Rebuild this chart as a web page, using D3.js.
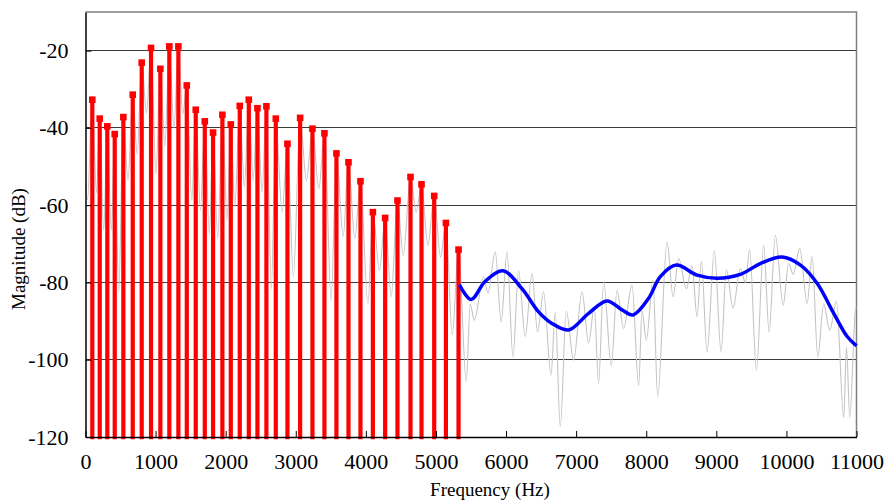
<!DOCTYPE html>
<html>
<head>
<meta charset="utf-8">
<script src="https://cdn.jsdelivr.net/npm/d3@7"></script>
<style>
  body { margin: 0; background: #fff; }
  svg { display: block; font-family: "Liberation Serif", "Times New Roman", serif; }
</style>
</head>
<body>
<div id="grafica"></div>
<script>
// Harmonic peaks (red stems)
var harmFreq = [97, 203, 311, 417, 540, 674, 802, 935, 1068, 1196, 1325, 1445, 1573, 1702, 1820, 1953, 2073, 2201, 2330, 2453, 2581, 2715,
                2881, 3062, 3238, 3409, 3580, 3752, 3923, 4100, 4275, 4451, 4637, 4794, 4975, 5142, 5322]
var harmDb = [-32.7, -37.6, -39.6, -41.6, -37.2, -31.4, -23.1, -19.3, -24.7, -18.9, -18.9, -29.0, -35.3, -38.3, -41.2, -36.6, -39.1, -34.3, -32.7, -34.9, -34.4, -37.6,
              -44.1, -37.4, -40.2, -41.4, -46.6, -48.9, -53.8, -61.8, -63.3, -58.8, -52.7, -54.6, -57.6, -64.6, -71.5]

// Valleys of the spectrum between harmonics
var dipFreq = [0, 30, 157, 260, 368, 474, 607, 738, 871, 1006, 1132, 1262, 1388, 1517, 1639, 1767, 1887, 2020, 2130, 2267, 2391, 2520, 2652,
               2805, 2966, 3152, 3329, 3505, 3676, 3843, 4029, 4194, 4361, 4533, 4718, 4885, 5065, 5232, 5432]
var dipDb = [-54.5, -58.5, -56.8, -66.5, -66.6, -82.7, -53.5, -46.8, -36.1, -51.9, -44.8, -40.1, -36.4, -58.7, -61.3, -67.4, -68.7, -63.9, -60.3, -55.3, -53.6, -56.6, -81.6,
             -61.8, -78.6, -53.6, -55.7, -84.6, -68.1, -68.7, -85.5, -76.8, -83.7, -73.0, -61.8, -70.4, -73.4, -93.6, -105.7]

// Noisy part of the spectrum above the harmonics
var noiseFreq = [5489, 5546, 5679, 5742, 5846, 5931, 6013, 6099, 6178, 6274, 6370, 6450, 6535, 6641, 6702, 6774, 6859, 6964, 7084, 7178, 7259, 7320,
                 7392, 7502, 7583, 7677, 7797, 7892, 7940, 8001, 8097, 8163, 8297, 8383, 8463, 8573, 8654, 8725, 8787, 8868, 8972, 9068,
                 9143, 9239, 9343, 9415, 9476, 9572, 9676, 9753, 9843, 9953, 10033, 10096, 10190, 10296, 10367, 10447, 10532, 10618, 10714,
                 10818, 10857, 10904, 10985, 11000]
var noiseDb = [-85.6, -89.8, -78.6, -82.7, -72.1, -90.2, -72.1, -99.3, -77.0, -94.0, -77.7, -92.8, -82.4, -104.0, -87.7, -117.3, -87.4, -100.1, -82.4, -95.7, -86.3, -106.1,
               -79.8, -101.5, -82.0, -91.9, -80.7, -106.7, -87.3, -95.0, -79.4, -109.6, -69.5, -83.7, -73.8, -81.6, -75.6, -88.9, -74.5, -98.0, -71.8, -98.0,
               -76.7, -86.7, -76.4, -80.0, -71.5, -102.7, -70.4, -92.8, -67.8, -85.9, -75.1, -77.9, -71.2, -85.4, -73.2, -99.3, -85.5, -92.4, -84.9,
               -115.0, -96.7, -115.0, -87.2, -86.5]

// Smooth envelope (blue)
var envFreq = [5335, 5503, 5703, 5956, 6227, 6464, 6655, 6892, 7178, 7440, 7655, 7812, 8034, 8201, 8430, 8725, 9011, 9343, 9628, 9939,
               10201, 10438, 10675, 10867, 11000]
var envDb = [-80.6, -84.4, -79.7, -77.0, -81.6, -87.6, -90.6, -92.3, -88.0, -84.8, -87.1, -88.4, -84.1, -78.5, -75.5, -78.1, -78.9, -77.9, -75.1, -73.4,
             -75.5, -80.2, -88.0, -94.0, -96.4]

var xTicks = [0, 1000, 2000, 3000, 4000, 5000, 6000, 7000, 8000, 9000, 10000, 11000]
var yTicks = [-120, -100, -80, -60, -40, -20]

var width = 887
var height = 504
var margin = ({top: 12, right: 30.5, bottom: 67, left: 85.5})

var x = d3.scaleLinear()
    .domain([0, 11000])
    .range([margin.left, width - margin.right])

var y = d3.scaleLinear()
    .domain([-120, -10])
    .range([height - margin.bottom, margin.top])

// Gray spectrum: harmonics + valleys + noise, sorted by frequency
var espectro = harmFreq.map((f, i) => [f, harmDb[i]])
    .concat(dipFreq.map((f, i) => [f, dipDb[i]]))
    .concat(noiseFreq.map((f, i) => [f, noiseDb[i]]))
    .sort((a, b) => a[0] - b[0])

var armonicos = harmFreq.map((f, i) => ({f: f, db: harmDb[i]}))
var envolvente = envFreq.map((f, i) => [f, envDb[i]])

var svg = d3.select("#grafica")
    .append("svg")
    .attr("width", width)
    .attr("height", height)

// Grid lines
svg.append("g")
    .selectAll("line")
    .data(yTicks.filter(d => d > -120))
    .join("line")
    .attr("x1", x(0))
    .attr("x2", x(11000))
    .attr("y1", d => y(d))
    .attr("y2", d => y(d))
    .attr("stroke", "#3a3a3a")
    .attr("stroke-width", 1)
    .attr("shape-rendering", "crispEdges")

// top / right frame
svg.append("path")
    .attr("d", `M${x(0)},${y(-10)}H${x(11000)}V${y(-120)}`)
    .attr("fill", "none")
    .attr("stroke", "#808080")
    .attr("stroke-width", 1.5)

svg.append("defs").append("clipPath")
    .attr("id", "clip")
    .append("rect")
    .attr("x", x(0))
    .attr("y", y(-10))
    .attr("width", x(11000) - x(0))
    .attr("height", y(-120) - y(-10))

// gray spectrum
var linea = d3.line()
    .x(d => x(d[0]))
    .y(d => y(d[1]))
    .curve(d3.curveMonotoneX)

svg.append("path")
    .datum(espectro)
    .attr("clip-path", "url(#clip)")
    .attr("fill", "none")
    .attr("stroke", "#c4c4c4")
    .attr("stroke-width", 1.1)
    .attr("d", linea)

// red stems
svg.append("g")
    .selectAll("line")
    .data(armonicos)
    .join("line")
    .attr("x1", d => x(d.f))
    .attr("x2", d => x(d.f))
    .attr("y1", d => y(d.db))
    .attr("y2", y(-120.6))
    .attr("stroke", "#ff0000")
    .attr("stroke-width", 4.2)

// blue envelope
svg.append("path")
    .datum(envolvente)
    .attr("fill", "none")
    .attr("stroke", "#0000ff")
    .attr("stroke-width", 3.5)
    .attr("stroke-linejoin", "round")
    .attr("d", d3.line().x(d => x(d[0])).y(d => y(d[1])).curve(d3.curveCatmullRom.alpha(0.5)))

// red markers
svg.append("g")
    .selectAll("rect")
    .data(armonicos)
    .join("rect")
    .attr("x", d => x(d.f) - 3.3)
    .attr("y", d => y(d.db) - 3.3)
    .attr("width", 6.6)
    .attr("height", 6.6)
    .attr("fill", "#ff0000")

// axes
var xAxis = g => g
    .attr("transform", `translate(0,${y(-120)})`)
    .call(d3.axisBottom(x).tickValues(xTicks).tickFormat(d => String(d)).tickSizeInner(-6).tickSizeOuter(0).tickPadding(16))
    .call(g => g.select(".domain").attr("stroke", "#000").attr("stroke-width", 1.5))
    .call(g => g.selectAll(".tick line").attr("stroke", "#000"))
    .call(g => g.selectAll("text").attr("font-size", "22px").attr("fill", "#000").attr("dy", "0.71em"))

var yAxis = g => g
    .attr("transform", `translate(${x(0)},0)`)
    .call(d3.axisLeft(y).tickValues(yTicks).tickFormat(d => String(d)).tickSizeInner(-6).tickSizeOuter(0).tickPadding(17))
    .call(g => g.select(".domain").attr("stroke", "#000").attr("stroke-width", 1.5))
    .call(g => g.selectAll(".tick line").attr("stroke", "#000"))
    .call(g => g.selectAll("text").attr("font-size", "22px").attr("fill", "#000"))

svg.append("g").call(xAxis)
svg.append("g").call(yAxis)

svg.selectAll(".tick text").attr("font-family", "Liberation Serif, serif")

// axis titles
svg.append("text")
    .attr("x", 490)
    .attr("y", 496)
    .attr("text-anchor", "middle")
    .attr("font-size", "19px")
    .text("Frequency (Hz)")

svg.append("text")
    .attr("transform", "translate(25,249)rotate(-90)")
    .attr("text-anchor", "middle")
    .attr("font-size", "19px")
    .text("Magnitude (dB)")
</script>
</body>
</html>
